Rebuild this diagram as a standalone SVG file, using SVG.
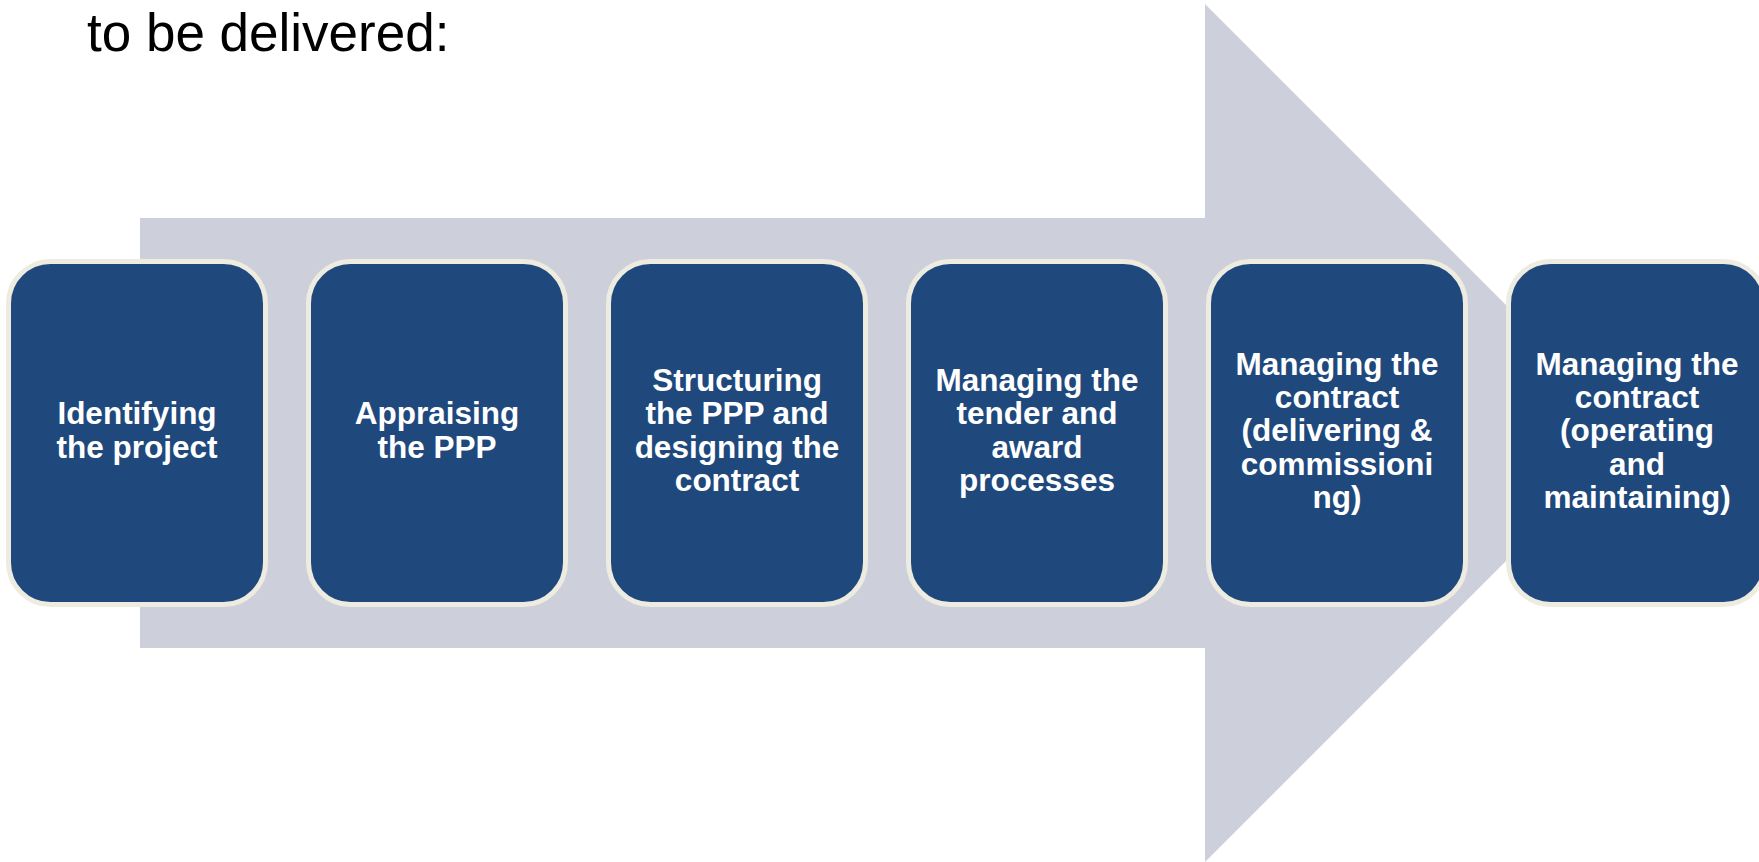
<svg xmlns="http://www.w3.org/2000/svg" width="1759" height="862" viewBox="0 0 1759 862">
<style>
.box{fill:#1F497D;stroke:#EEEBE1;stroke-width:5}
.lbl{font-family:"Liberation Sans",Arial,sans-serif;font-weight:bold;font-size:31.5px;fill:#FFFFFF;text-anchor:middle}
.title{font-family:"Liberation Sans",Arial,sans-serif;font-size:53px;fill:#000000}
</style>
<rect x="0" y="0" width="1759" height="862" fill="#FFFFFF"/>
<text class="title" x="87" y="51">to be delivered:</text>
<g id="arrow">
<polygon points="140,218 1205,218 1205,4 1634,433 1205,862 1205,648 140,648" fill="#CDD0DA"/>
</g>
<g id="connectors"></g>
<g id="node1">
<rect class="box" x="8.5" y="261.5" width="257" height="343" rx="42"/>
<text class="lbl" x="137"><tspan x="137" y="424.4">Identifying</tspan><tspan x="137" y="457.7">the project</tspan></text>
</g>
<g id="node2">
<rect class="box" x="308.5" y="261.5" width="257" height="343" rx="42"/>
<text class="lbl" x="437"><tspan x="437" y="424.4">Appraising</tspan><tspan x="437" y="457.7">the PPP</tspan></text>
</g>
<g id="node3">
<rect class="box" x="608.5" y="261.5" width="257" height="343" rx="42"/>
<text class="lbl" x="737"><tspan x="737" y="391">Structuring</tspan><tspan x="737" y="424.3">the PPP and</tspan><tspan x="737" y="457.6">designing the</tspan><tspan x="737" y="491">contract</tspan></text>
</g>
<g id="node4">
<rect class="box" x="908.5" y="261.5" width="257" height="343" rx="42"/>
<text class="lbl" x="1037"><tspan x="1037" y="391">Managing the</tspan><tspan x="1037" y="424.3">tender and</tspan><tspan x="1037" y="457.6">award</tspan><tspan x="1037" y="491">processes</tspan></text>
</g>
<g id="node5">
<rect class="box" x="1208.5" y="261.5" width="257" height="343" rx="42"/>
<text class="lbl" x="1337"><tspan x="1337" y="375">Managing the</tspan><tspan x="1337" y="408">contract</tspan><tspan x="1337" y="441.3">(delivering &amp;</tspan><tspan x="1337" y="474.6">commissioni</tspan><tspan x="1337" y="508">ng)</tspan></text>
</g>
<g id="node6">
<rect class="box" x="1508.5" y="261.5" width="257" height="343" rx="42"/>
<text class="lbl" x="1637"><tspan x="1637" y="375">Managing the</tspan><tspan x="1637" y="408">contract</tspan><tspan x="1637" y="441.3">(operating</tspan><tspan x="1637" y="474.6">and</tspan><tspan x="1637" y="508">maintaining)</tspan></text>
</g>
</svg>
